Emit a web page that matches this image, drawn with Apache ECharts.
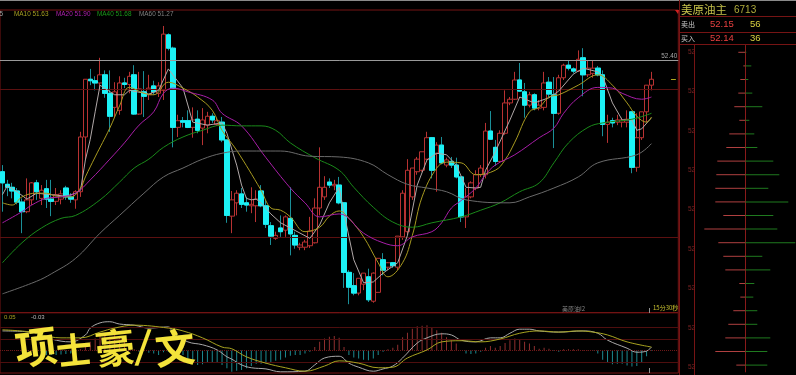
<!DOCTYPE html>
<html><head><meta charset="utf-8">
<style>html,body{margin:0;padding:0;background:#000}#c{width:796px;height:375px}</style>
<script src="https://cdn.jsdelivr.net/npm/echarts@6/dist/echarts.min.js"></script>
</head><body><div id="c"></div>
<script>
// [open, close, low, high]
const ohlc = [
[50.89,50.74,50.35,50.98],[50.72,50.68,50.56,50.78],[50.68,50.63,50.53,50.74],[50.63,50.48,50.45,50.67],[50.48,50.35,50.06,50.53],
[50.35,50.51,50.33,50.80],[50.51,50.74,50.44,50.75],[50.74,50.62,50.51,50.78],[50.53,50.64,50.44,50.71],[50.66,50.52,50.40,50.78],
[50.52,50.49,50.29,50.78],[50.49,50.58,50.44,50.67],[50.52,50.59,50.45,50.64],[50.67,50.55,50.51,50.70],[50.55,50.52,50.47,50.60],
[50.51,50.62,50.39,50.64],[50.62,51.36,50.55,51.43],[51.36,52.14,51.05,52.14],[52.14,52.12,52.06,52.28],[52.12,52.09,51.99,52.18],
[52.09,52.20,51.99,52.43],[52.20,51.95,51.89,52.26],[51.95,51.64,51.43,52.26],[51.76,51.97,51.63,52.10],[51.72,52.09,51.66,52.18],
[52.09,52.07,52.02,52.16],[52.07,52.18,51.95,52.24],[52.20,51.67,51.66,52.33],[51.67,52.01,51.66,52.24],[51.97,51.91,51.63,52.25],
[51.93,52.02,51.86,52.20],[52.05,51.97,51.93,52.12],[51.95,52.05,51.90,52.10],[51.99,52.75,51.86,52.86],[52.74,52.56,52.53,52.76],
[52.56,51.49,51.22,52.58],[51.49,51.58,51.36,51.66],[51.58,51.56,51.49,51.63],[51.58,51.49,51.48,51.72],[51.49,51.59,51.35,51.76],
[51.60,51.45,51.41,51.72],[51.48,51.59,51.25,51.75],[51.52,51.64,51.41,51.70],[51.64,51.59,51.55,51.68],[51.53,51.58,51.51,51.62],
[51.56,51.32,51.29,51.63],[51.32,50.30,50.20,51.32],[50.29,50.51,50.06,50.63],[50.47,50.60,50.30,50.64],[50.59,50.45,50.40,50.67],
[50.47,50.44,50.35,50.55],[50.43,50.45,50.33,50.68],[50.43,50.52,50.21,50.64],[50.63,50.43,50.41,50.71],[50.43,50.18,50.13,50.51],
[50.16,50.02,49.90,50.21],[49.99,50.03,49.97,50.08],[50.13,50.08,50.01,50.30],[50.10,50.28,50.01,50.30],[50.26,50.05,49.76,50.68],
[50.03,49.90,49.85,50.08],[49.87,49.90,49.83,49.93],[49.87,49.94,49.83,49.97],[49.89,50.09,49.86,50.28],[49.93,50.40,49.92,50.53],
[50.40,50.68,50.30,51.22],[50.55,50.68,50.51,50.83],[50.75,50.71,50.67,50.80],[50.70,50.72,50.64,50.78],[50.71,50.47,50.45,50.82],
[50.47,49.53,49.32,50.47],[49.53,49.33,49.10,49.56],[49.35,49.25,49.22,49.52],[49.25,49.45,49.22,49.45],[49.37,49.52,49.29,49.52],
[49.47,49.16,49.13,49.58],[49.14,49.52,49.12,49.53],[49.26,49.72,49.26,49.72],[49.70,49.56,49.49,49.79],[49.60,49.66,49.56,49.67],
[49.66,49.62,49.59,49.67],[49.60,50.02,49.56,50.02],[50.01,50.60,49.97,50.64],[50.08,50.91,50.03,51.06],[50.55,50.94,50.51,50.94],
[50.89,51.06,50.85,51.09],[50.91,51.16,50.89,51.16],[51.06,51.35,51.05,51.43],[51.35,50.91,50.80,51.36],[51.14,51.25,50.62,51.29],
[51.25,51.01,50.99,51.36],[50.98,51.05,50.95,51.08],[51.03,50.98,50.94,51.09],[50.98,50.82,50.80,51.08],[50.82,50.28,50.21,50.82],
[50.28,50.55,50.13,50.67],[50.55,50.74,50.53,50.76],[50.67,50.85,50.64,50.91],[50.85,50.94,50.82,50.98],[50.85,51.44,50.80,51.55],
[51.44,51.33,51.32,51.71],[51.22,51.03,50.97,51.32],[51.03,51.41,51.01,51.45],[51.41,51.82,51.39,51.99],[51.82,51.87,51.79,51.90],
[51.87,52.13,51.86,52.24],[52.13,51.98,51.97,52.36],[51.97,51.79,51.62,52.09],[51.79,51.93,51.76,51.97],[51.93,51.75,51.72,51.95],
[51.75,51.79,51.72,51.86],[51.76,52.09,51.72,52.24],[52.10,51.94,51.90,52.17],[51.93,51.68,51.21,52.17],[51.68,52.16,51.66,52.20],
[52.16,52.33,52.13,52.35],[52.33,52.29,52.26,52.40],[52.28,52.25,52.22,52.30],[52.25,52.41,52.24,52.53],[52.43,52.20,51.91,52.56],
[52.20,52.29,52.17,52.40],[52.22,52.29,52.16,52.39],[52.29,52.20,52.18,52.32],[52.20,51.53,51.37,52.26],[51.53,51.56,51.28,51.66],
[51.58,51.55,51.49,51.62],[51.56,51.59,51.52,51.66],[51.56,51.59,51.49,51.62],[51.56,51.60,51.49,51.72],[51.70,50.95,50.87,51.70],
[50.95,51.35,50.89,51.68],[51.35,51.70,51.32,51.70],[51.70,52.06,51.56,52.06],[52.06,52.14,51.99,52.24]
];
// [candle index, value] readings
const ma5 = [[0,50.58],[1,50.70],[3,50.62],[5,50.52],[7,50.60],[10,50.58],[13,50.56],[15,50.60],[16,50.64],[17,51.05],[18,51.33],[19,51.70],[20,52.06],[23,51.93],[25,51.93],[26,51.99],[30,51.94],[32,51.99],[34,52.28],[37,52.02],[39,51.56],[42,51.52],[45,51.55],[46,51.41],[48,50.98],[49,50.71],[50,50.53],[51,50.51],[52,50.52],[53,50.47],[55,50.32],[57,50.20],[59,50.13],[63,49.99],[65,50.17],[67,50.47],[69,50.68],[70,50.33],[72,49.70],[74,49.39],[76,49.40],[78,49.52],[81,49.66],[83,50.03],[85,50.71],[87,51.05],[89,51.14],[91,51.12],[93,50.98],[95,50.68],[97,50.67],[98,50.68],[99,50.91],[101,51.16],[104,51.59],[106,51.90],[109,51.82],[112,51.89],[114,51.98],[117,52.21],[119,52.29],[122,52.24],[123,52.18],[125,51.82],[127,51.59],[129,51.59],[130,51.45],[131,51.47],[133,51.62]];
const ma10 = [[0,50.47],[2,50.44],[4,50.55],[7,50.60],[9,50.60],[11,50.56],[14,50.55],[16,50.67],[17,50.82],[19,51.09],[22,51.48],[24,51.78],[26,52.03],[29,51.95],[31,51.93],[34,52.10],[37,52.02],[40,51.90],[43,51.72],[45,51.45],[48,51.18],[53,50.64],[55,50.40],[57,50.37],[59,50.28],[62,50.08],[65,50.14],[67,50.29],[69,50.36],[71,50.26],[74,50.01],[77,49.66],[79,49.47],[82,49.66],[84,50.03],[86,50.55],[89,50.94],[91,51.02],[94,51.01],[97,50.85],[101,50.91],[103,51.05],[105,51.29],[108,51.70],[110,51.76],[112,51.90],[114,51.93],[118,52.06],[122,52.20],[125,52.06],[128,51.82],[130,51.64],[132,51.56],[133,51.63]];
const ma20 = [[0,50.20],[4,50.35],[6,50.44],[9,50.53],[12,50.55],[15,50.60],[18,50.78],[22,51.06],[25,51.28],[28,51.52],[31,51.70],[33,51.95],[35,52.02],[38,51.97],[43,51.86],[45,51.68],[49,51.51],[54,51.08],[59,50.67],[62,50.47],[65,50.28],[69,50.32],[74,50.06],[78,49.93],[81,49.89],[84,50.01],[88,50.08],[90,50.20],[92,50.40],[94,50.50],[97,50.67],[99,50.85],[101,50.98],[105,51.12],[110,51.35],[113,51.48],[115,51.68],[118,51.89],[122,52.03],[125,52.02],[127,51.95],[131,51.87],[133,51.90]];
const ma40 = [[0,49.66],[4,49.93],[8,50.13],[12,50.26],[15,50.30],[20,50.51],[24,50.75],[27,50.94],[30,51.06],[33,51.22],[37,51.36],[41,51.45],[45,51.52],[49,51.51],[53,51.51],[56,51.45],[59,51.28],[64,51.08],[69,50.91],[72,50.68],[76,50.41],[80,50.21],[84,50.14],[88,50.20],[94,50.28],[98,50.37],[102,50.47],[106,50.62],[110,50.74],[113,51.01],[116,51.28],[120,51.49],[123,51.55],[129,51.60],[133,51.68]];
const ma60 = [[0,49.24],[7,49.41],[10,49.51],[15,49.72],[20,50.06],[24,50.30],[29,50.60],[33,50.82],[37,50.94],[41,51.06],[45,51.14],[49,51.17],[57,51.17],[63,51.10],[69,51.09],[75,51.01],[79,50.85],[83,50.72],[87,50.67],[91,50.62],[95,50.51],[104,50.47],[108,50.55],[113,50.67],[118,50.82],[122,51.01],[130,51.12],[133,51.27]];
const macdHist = [0.01,0.01,0.01,0.01,0.01,0.01,0.01,0,-0.03,-0.08,-0.08,-0.08,-0.07,-0.06,-0.05,-0.02,0.02,0.10,0.15,0.21,0.25,0.27,0.24,0.30,0.24,0.15,0.10,0.02,-0.02,-0.01,-0.04,-0.05,-0.08,-0.03,-0.02,-0.03,-0.03,-0.08,-0.14,-0.20,-0.25,-0.24,-0.21,-0.21,-0.21,-0.25,-0.31,-0.37,-0.35,-0.34,-0.31,-0.27,-0.23,-0.23,-0.23,-0.21,-0.18,-0.16,-0.12,-0.09,-0.08,-0.08,-0.05,-0.02,0.06,0.15,0.21,0.24,0.25,0.22,0.06,-0.08,-0.12,-0.14,-0.16,-0.17,-0.14,-0.08,-0.02,0.02,0.05,0.10,0.23,0.31,0.38,0.42,0.43,0.44,0.40,0.35,0.31,0.23,0.18,0.12,0,-0.05,-0.06,-0.05,-0.02,0.05,0.08,0.05,0.08,0.13,0.18,0.21,0.19,0.15,0.12,0.08,0.03,0.05,0.03,-0.01,-0.02,0.02,0.02,0.02,0.02,0.01,0.01,-0.01,-0.05,-0.16,-0.20,-0.24,-0.23,-0.23,-0.26,-0.28,-0.27,-0.20,-0.10,-0.01];
const dif = [[0,.34],[6,.32],[10,.20],[14,.15],[17,.27],[18,.39],[20,.48],[22,.50],[24,.46],[27,.44],[30,.39],[34,.41],[35,.30],[38,.15],[41,.10],[44,.01],[46,-.11],[47,-.15],[49,-.25],[51,-.30],[54,-.32],[57,-.37],[62,-.36],[64,-.25],[66,-.13],[69,-.10],[71,-.22],[73,-.29],[76,-.36],[78,-.32],[80,-.27],[82,-.13],[85,.13],[87,.22],[90,.29],[92,.27],[94,.18],[97,.15],[100,.22],[102,.22],[104,.30],[106,.37],[108,.37],[110,.34],[114,.32],[119,.34],[122,.30],[124,.18],[128,.04],[130,-.03],[132,-.01],[133,.06]];
const dea = [[0,.36],[6,.32],[8,.27],[12,.22],[16,.22],[20,.32],[23,.39],[27,.44],[34,.39],[37,.34],[41,.22],[45,.06],[47,.03],[50,-.11],[54,-.22],[58,-.30],[62,-.36],[66,-.27],[69,-.18],[73,-.22],[77,-.30],[80,-.29],[83,-.13],[87,.01],[90,.15],[94,.17],[98,.15],[102,.20],[106,.30],[110,.34],[114,.32],[118,.34],[121,.32],[124,.27],[128,.15],[133,.06]];
const sellVol = [7,2,5,7,11,6,16,19,28,29,30,30,22,41,27,22,20,6,5,12,17,20,30,9];
const buyVol  = [1,6,3,7,17,4,9,12,28,34,23,43,28,32,50,17,25,9,8,12,12,25,22,22];
const slotCount = 139;
const categories = Array.from({length:slotCount},(_,i)=>String(i));
const bookRows = sellVol.map((_,i)=>String(i));
const maLegend = [["55","#a0a0a0",-4],["MA10 51.63","#a8a020",14],["MA20 51.90","#b020b0",56],["MA40 51.68","#1a9a1a",97],["MA60 51.27","#808080",139]];
const bookScaleLabels = ["52","52","52","52","52","52","52","52","52"];

const LAT = "'Liberation Sans','Noto Sans CJK SC',sans-serif";
const CJK = "'Noto Sans CJK SC',sans-serif";
const RED = "#761414";
const line=(x1,y1,x2,y2,c,w)=>({type:'line',shape:{x1,y1,x2,y2},style:{stroke:c||RED,lineWidth:w||1},silent:true,z:50});
const txt=(x,y,t,c,f,extra)=>Object.assign({type:'text',x,y,silent:true,z:60,style:Object.assign({text:t,fill:c,font:f,textVerticalAlign:'middle'},extra||{})});
const mark=(x,y,t,size,rot)=>({type:'text',x,y,rotation:rot,originX:size/2,originY:0,silent:true,z:60,
  style:{text:t,fill:'#f3e33a',font:"700 "+size+"px 'Noto Sans CJK SC',sans-serif",textVerticalAlign:'middle'}});
const graphics=[
  line(0,0.5,796,0.5,'#8a8a8a',1),
  line(679.5,0,679.5,375),line(694.5,44.5,694.5,375),
  line(679,16.5,796,16.5),line(679,32.5,796,32.5),line(679,44.5,796,44.5),
  {type:'polygon',shape:{points:[[675,10],[679,10],[678,14]]},style:{fill:'#d02020'},silent:true,z:55},
  txt(681,10,'美原油主','#c4c04a','11.5px '+CJK),
  txt(734,10,'6713','#b0ac3a','10px '+LAT),
  txt(681,24,'卖出','#c8c8c8','7px '+CJK),
  txt(710,24,'52.15','#e84040','9.5px '+LAT),
  txt(750,24,'56','#d8d040','9.5px '+LAT),
  txt(681,38,'买入','#c8c8c8','7px '+CJK),
  txt(710,38,'52.14','#e84040','9.5px '+LAT),
  txt(750,38,'36','#d8d040','9.5px '+LAT),
  txt(4,317,'0.05','#a8a020','6px '+LAT),
  txt(31,317,'-0.03','#b8b8b8','6px '+LAT),
  txt(562,309,'美原油I2','#808080','6px '+CJK),
  txt(653,308,'15分30秒','#c8c030','6px '+CJK),
  line(649.5,308,649.5,313,'#909090'),line(649.5,368,649.5,373,'#909090'),
  // signature watermark
  mark(15,347,'项',42,0.12),
  mark(56,350,'士',36,0.1),
  mark(95,348,'豪',40,0.1),
  mark(136,346,'/',38,-0.1),
  mark(155,348,'文',40,0.1)
];
maLegend.forEach(m=>graphics.push(txt(m[2],14,m[0],m[1],'6.4px '+LAT)));
bookScaleLabels.forEach((t,i)=>graphics.push(txt(688,52+i*39.4,t,'#7a2222','6.5px '+LAT)));

const labelPt=(i,v,c,pos)=>({coord:[i,v],symbol:'circle',symbolSize:0,itemStyle:{opacity:0},
  label:{show:true,formatter:v.toFixed(2),color:c,fontSize:6.4,fontFamily:LAT,position:pos,distance:1.5}});
const plain=(color,d,smooth,name)=>({type:'line',name,data:d,xAxisIndex:0,yAxisIndex:0,showSymbol:false,symbol:'none',
  smooth:smooth,lineStyle:{color,width:1},silent:true,animation:false,z:5});
const tickStyle={color:'#b0a820',width:1,type:'solid'};
const chart=echarts.init(document.getElementById('c'),null,{renderer:'canvas'});
chart.setOption({
  animation:false,backgroundColor:'#000',
  graphic:{elements:graphics},
  grid:[
    {left:-1.445,right:117.7,top:10,height:302.7,show:true,borderColor:RED,borderWidth:1,backgroundColor:'transparent'},
    {left:-1.445,right:117.7,top:312.7,height:60.3,show:true,borderColor:RED,borderWidth:1,backgroundColor:'transparent'},
    {left:694,right:0,top:45.5,height:326.4}
  ],
  xAxis:[
    {type:'category',gridIndex:0,data:categories,show:false,boundaryGap:true},
    {type:'category',gridIndex:1,data:categories,show:false,boundaryGap:true},
    {type:'value',gridIndex:2,min:-51.3,max:50.7,show:false}
  ],
  yAxis:[
    {type:'value',gridIndex:0,min:48.985,max:53.076,show:false,scale:true},
    {type:'value',gridIndex:1,min:-0.391,max:0.657,show:false},
    {type:'category',gridIndex:2,data:bookRows,inverse:true,axisTick:{show:false},axisLabel:{show:false},splitLine:{show:false},
     axisLine:{show:true,onZero:true,lineStyle:{color:'#8a1a1a',width:1}}}
  ],
  series:[
    {type:'candlestick',name:'K',xAxisIndex:0,yAxisIndex:0,data:ohlc,barWidth:5,silent:true,z:3,
     itemStyle:{color:'#000',color0:'#1cf2f6',borderColor:'#b83232',borderColor0:'#1a8f98',borderWidth:1},
     markPoint:{silent:true,animation:false,data:[
       labelPt(33,52.86,'#d04545','top'),labelPt(119,52.56,'#d04545','top'),
       labelPt(71,49.10,'#2aa8b0','bottom'),labelPt(129,50.87,'#2aa8b0','bottom')]},
     markLine:{silent:true,animation:false,symbol:'none',precision:2,data:[
       {yAxis:52.40,lineStyle:{color:'#9a9a9a',width:1,type:'solid'},
        label:{show:true,position:'insideEndTop',formatter:'52.40',color:'#a8a8a8',fontSize:6.4,fontFamily:LAT,distance:1}},
       {yAxis:52,lineStyle:{color:'#5c1010',width:1,type:'solid'},label:{show:false}},
       {yAxis:50,lineStyle:{color:'#5c1010',width:1,type:'solid'},label:{show:false}},
       [{coord:[137,52.14],lineStyle:tickStyle,label:{show:false}},{coord:[138,52.14],lineStyle:tickStyle,label:{show:false}}]
     ]}},
    {type:'candlestick',name:'K bodies',xAxisIndex:0,yAxisIndex:0,barWidth:5,silent:true,z:4,
     data:ohlc.map(([o,c])=>c<o?[o,c,c,o]:['-','-','-','-']),
     itemStyle:{color:'#000',color0:'#1cf2f6',borderColor:'#1cf2f6',borderColor0:'#1cf2f6',borderWidth:1}},
    plain('#b0a8a8',ma5,false,'MA5'),
    plain('#a89a20',ma10,0.4,'MA10'),
    plain('#a81ea8',ma20,0.4,'MA20'),
    plain('#1a8a1a',ma40,0.4,'MA40'),
    plain('#6a6a6a',ma60,0.4,'MA60'),
    {type:'bar',name:'MACD',xAxisIndex:1,yAxisIndex:1,data:macdHist,barWidth:1,silent:true,z:2,
     itemStyle:{color:p=>p.value>=0?'#8f2f2f':'#1d8a90'},
     markLine:{silent:true,animation:false,symbol:'none',label:{show:false},data:[
       {yAxis:0.4,lineStyle:{color:'#4e0e0e',width:1,type:'solid'}},
       {yAxis:0.2,lineStyle:{color:'#4e0e0e',width:1,type:'solid'}},
       {yAxis:0,lineStyle:{color:'#6e1818',width:1,type:'dotted'}},
       {yAxis:-0.2,lineStyle:{color:'#4e0e0e',width:1,type:'solid'}}]}},
    {type:'line',name:'DIF',xAxisIndex:1,yAxisIndex:1,data:dif,symbol:'none',smooth:0.4,lineStyle:{color:'#a8a8a8',width:1},silent:true,z:4},
    {type:'line',name:'DEA',xAxisIndex:1,yAxisIndex:1,data:dea,symbol:'none',smooth:0.4,lineStyle:{color:'#a8a420',width:1},silent:true,z:5},
    {type:'bar',name:'卖',xAxisIndex:2,yAxisIndex:2,data:sellVol.map(v=>-v),barWidth:1,barGap:'-100%',silent:true,itemStyle:{color:'#b04040'}},
    {type:'bar',name:'买',xAxisIndex:2,yAxisIndex:2,data:buyVol,barWidth:1,barGap:'-100%',silent:true,itemStyle:{color:'#1f7a1f'}}
  ]
});
</script></body></html>
